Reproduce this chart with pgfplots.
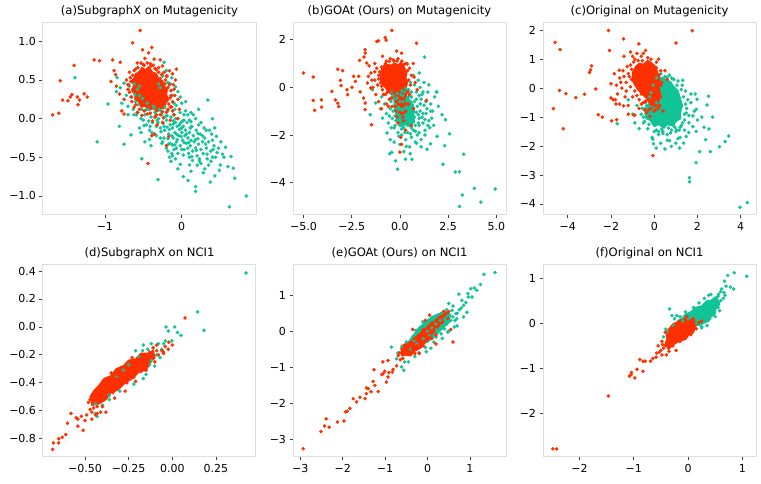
\documentclass[border=0pt]{standalone}
\usepackage{pgfplots}
\pgfplotsset{compat=1.18}
\usepackage{fontspec}
\setmainfont{DejaVu Sans}
\definecolor{gc}{RGB}{16,196,152}
\definecolor{rc}{RGB}{255,48,0}
\pgfplotsset{
 panel/.style={scale only axis, width=213pt, height=192pt, anchor=south west,
  axis line style={draw=black!13, line width=1pt},
  tick align=outside, tick pos=left, major tick length=3.5pt,
  tick style={black!75, line width=0.7pt},
  tick label style={font=\fontsize{11}{12}\selectfont, text=black},
  title style={font=\fontsize{11.6}{13}\selectfont, at={(0.5,1)}, anchor=base, yshift=2.5pt}},
 gs/.style={only marks, mark=*, mark size=1.6pt, color=gc, mark options={draw=none, fill=gc}},
 rs/.style={only marks, mark=*, mark size=1.6pt, color=rc, mark options={draw=none, fill=rc}},
 bl/.style={fill=#1, draw=#1, line width=1.5pt, line join=round, mark=none}
}
\begin{document}
\begin{tikzpicture}
\path[use as bounding box] (0,0) rectangle (761pt,484pt);
% (a)
\begin{axis}[panel, at={(43pt,269pt)}, xmin=-1.805, xmax=0.966, ymin=-1.246, ymax=1.237,
 title={(a)SubgraphX on Mutagenicity}, xtick={-1,0}, xticklabels={−1,0},
 ytick={-1,-0.5,0,0.5,1}, yticklabels={−1.0,−0.5,0.0,0.5,1.0}]
\addplot[gs] coordinates {(-0.62,0.45)(-0.58,0.38)(-0.55,0.30)(-0.60,0.22)(-0.52,0.12)(-0.48,0.05)(-0.50,-0.02)(-0.45,0.20)(-0.40,0.02)(-0.38,-0.05)(-0.35,0.08)(-0.33,-0.10)(-0.30,0.00)(-0.28,-0.12)(-0.26,0.05)(-0.24,-0.06)(-0.22,-0.15)(-0.20,-0.02)(-0.18,0.10)(-0.17,-0.20)(-0.15,-0.08)(-0.14,0.02)(-0.12,-0.12)(-0.11,-0.25)(-0.10,0.05)(-0.09,-0.18)(-0.08,-0.05)(-0.07,-0.30)(-0.06,-0.10)(-0.05,0.00)(-0.04,-0.22)(-0.03,-0.14)(-0.02,-0.35)(-0.01,-0.05)(0.00,-0.18)(0.01,-0.28)(0.02,-0.10)(0.03,-0.40)(0.04,-0.22)(0.05,-0.15)(0.06,-0.32)(0.07,-0.05)(0.08,-0.25)(0.09,-0.45)(0.10,-0.18)(0.11,-0.35)(0.12,-0.28)(0.13,-0.10)(0.14,-0.42)(0.15,-0.22)(0.16,-0.30)(0.18,-0.38)(0.19,-0.15)(0.20,-0.48)(0.21,-0.26)(0.22,-0.33)(0.24,-0.20)(0.25,-0.40)(0.27,-0.30)(0.28,-0.45)(0.30,-0.25)(0.32,-0.38)(0.35,-0.30)(0.38,-0.42)(0.40,-0.28)(0.42,-0.35)(0.44,-0.50)(-0.25,-0.30)(-0.20,-0.38)(-0.15,-0.32)(-0.13,-0.45)(-0.10,-0.40)(-0.16,-0.50)(-0.14,-0.55)(-0.12,-0.48)(-0.08,-0.52)(-0.05,-0.45)(-0.28,-0.25)(-0.35,-0.20)(-0.42,-0.15)(-0.48,-0.30)(-0.55,-0.12)(-0.70,0.05)(-0.72,0.30)(-0.78,0.20)(-0.85,0.35)(-0.68,0.42)(-0.30,0.45)(-0.25,0.55)(-0.20,0.62)(-0.23,0.73)(-0.15,0.45)(-0.12,0.30)(-0.10,0.20)(-0.05,0.35)(0.00,0.20)(0.05,0.10)(0.08,0.05)(0.10,-0.02)(0.15,0.05)(0.18,0.00)(0.22,0.12)(0.25,-0.05)(0.34,0.24)(0.40,0.00)(0.36,-0.15)(0.45,-0.23)(0.48,-0.38)(0.50,-0.60)(0.43,-0.74)(0.37,-0.82)(0.30,-0.65)(0.25,-0.58)(0.20,-0.60)(0.14,-0.54)(0.08,-0.80)(0.18,-0.88)(0.18,-0.94)(-0.02,-0.59)(-0.31,-0.79)(-0.52,-0.52)(-0.66,-0.21)(-0.75,-0.33)(-0.81,-0.10)(-0.96,0.19)(-0.84,0.53)(-1.10,-0.30)(-1.39,0.53)(0.64,-0.49)(0.67,-0.64)(0.69,-0.77)(0.62,-1.14)(0.84,-1.00)(0.55,-0.50)(0.60,-0.62)(0.33,-0.52)(0.28,-0.70)(0.12,-0.68)(-0.40,-0.35)(-0.05,-0.65)(0.02,-0.75)(-0.44,0.12)(-0.36,0.14)(-0.27,0.10)(-0.19,0.04)(-0.11,-0.03)(-0.03,-0.08)(0.03,-0.02)(-0.46,-0.08)(-0.32,-0.02)(-0.23,-0.10)(-0.16,-0.14)(-0.07,-0.20)(0.00,-0.12)(0.06,-0.20)(-0.53,0.00)(-0.41,-0.10)(-0.18,-0.26)(-0.09,-0.34)(0.10,-0.50)(0.23,-0.52)(0.35,-0.60)(0.40,-0.50)(-0.57,0.08)(-0.63,0.12)(-0.61,0.31)(-0.59,0.05)(-0.57,0.18)(-0.51,0.26)(-0.49,-0.09)(-0.47,0.11)(-0.53,-0.18)(-0.41,0.07)(-0.39,-0.18)(-0.43,-0.03)(-0.37,0.16)(-0.42,-0.27)(-0.31,-0.05)(-0.29,0.12)(-0.33,-0.22)(-0.27,-0.17)(-0.34,0.03)(-0.26,-0.32)(-0.21,0.03)(-0.19,-0.11)(-0.23,-0.25)(-0.17,-0.33)(-0.22,0.15)(-0.18,-0.42)(-0.11,-0.07)(-0.09,0.12)(-0.13,-0.22)(-0.07,-0.38)(-0.12,-0.34)(-0.08,0.00)(-0.06,-0.27)(0.01,-0.03)(-0.01,-0.23)(0.02,-0.47)(-0.02,0.08)(0.03,-0.31)(0.00,-0.40)(0.11,-0.12)(0.09,-0.31)(0.12,-0.04)(0.08,-0.38)(0.13,-0.49)(0.10,-0.60)(0.21,-0.19)(0.19,-0.41)(0.22,-0.08)(0.18,-0.27)(0.23,-0.55)(0.31,-0.33)(0.29,-0.12)(0.33,-0.46)(0.27,-0.22)(0.32,-0.15)(0.41,-0.40)(0.39,-0.20)(0.43,-0.12)(0.38,-0.55)(0.46,-0.44)(0.51,-0.30)(0.53,-0.46)(0.57,-0.37)(0.49,-0.67)(-0.28,0.40)(-0.18,0.47)(-0.13,0.53)(-0.08,0.41)(-0.02,0.28)(0.05,0.22)(-0.07,0.17)(0.12,0.08)(0.03,0.05)(-0.55,0.42)(-0.65,0.28)(-0.70,0.16)(-0.75,0.46)(-0.80,0.40)(-0.62,0.05)};
\addplot[bl=rc] coordinates {(-0.62,0.52)(-0.60,0.58)(-0.55,0.60)(-0.52,0.66)(-0.47,0.63)(-0.43,0.67)(-0.38,0.60)(-0.33,0.58)(-0.30,0.51)(-0.25,0.49)(-0.23,0.42)(-0.19,0.38)(-0.20,0.31)(-0.17,0.25)(-0.21,0.20)(-0.22,0.14)(-0.28,0.13)(-0.32,0.09)(-0.37,0.13)(-0.43,0.11)(-0.47,0.16)(-0.53,0.15)(-0.56,0.22)(-0.61,0.25)(-0.60,0.32)(-0.65,0.37)(-0.62,0.44)(-0.66,0.48)} -- cycle;
\addplot[rs] coordinates {(-0.66,0.48)(-0.63,0.35)(-0.65,0.22)(-0.62,0.15)(-0.58,0.08)(-0.55,0.60)(-0.50,0.70)(-0.45,0.72)(-0.40,0.68)(-0.35,0.65)(-0.30,0.60)(-0.28,0.52)(-0.22,0.45)(-0.18,0.40)(-0.14,0.30)(-0.12,0.22)(-0.15,0.15)(-0.20,0.08)(-0.28,0.05)(-0.35,0.02)(-0.45,0.06)(-0.52,0.04)(-0.70,0.38)(-0.72,0.50)(-0.75,0.25)(-0.78,0.10)(-0.10,0.38)(-0.08,0.50)(-0.12,0.58)(-0.20,0.55)(-0.25,0.68)(-0.60,0.64)(-0.05,0.25)(-0.03,0.12)(-0.10,0.05)(-0.15,-0.02)(-0.25,-0.05)(-0.32,-0.08)(-0.38,-0.03)(-0.05,0.00)(-1.68,0.05)(-1.60,0.07)(-1.58,0.49)(-1.55,0.24)(-1.48,0.23)(-1.45,0.28)(-1.43,0.31)(-1.40,0.69)(-1.36,0.28)(-1.35,0.18)(-1.33,0.24)(-1.27,0.32)(-1.23,0.28)(-1.14,0.76)(-1.07,0.75)(-0.90,0.76)(-0.88,0.62)(-0.86,0.57)(-0.80,0.73)(-0.81,0.32)(-0.70,0.44)(-0.64,0.98)(-0.54,1.14)(-0.51,0.89)(-0.43,0.85)(-0.39,0.92)(-0.36,0.77)(-0.07,0.64)(-0.44,-0.58)(-0.39,-0.22)(-0.36,-0.20)(-0.20,-0.35)(-0.17,-0.23)(-0.75,0.06)(-0.85,0.42)(-0.92,0.48)(-0.68,0.60)(-0.16,0.62)(-0.28,0.76)(-0.48,0.78)(-0.58,0.72)(-0.12,0.10)(-0.64,0.56)(-0.57,0.66)(-0.49,0.69)(-0.41,0.71)(-0.33,0.63)(-0.26,0.57)(-0.21,0.50)(-0.16,0.44)(-0.14,0.36)(-0.15,0.27)(-0.17,0.19)(-0.18,0.12)(-0.25,0.09)(-0.33,0.05)(-0.41,0.07)(-0.49,0.10)(-0.55,0.12)(-0.60,0.18)(-0.66,0.28)(-0.68,0.34)(-0.69,0.44)(-0.67,0.53)(-0.62,0.62)(-0.53,0.72)(-0.37,0.69)(-0.30,0.66)(-0.23,0.60)(-0.19,0.55)(-0.11,0.44)(-0.09,0.30)(-0.13,0.15)(-0.24,0.01)};
\end{axis}
% (b)
\begin{axis}[panel, at={(293pt,269pt)}, xmin=-5.54, xmax=5.5, ymin=-5.36, ymax=2.70,
 title={(b)GOAt (Ours) on Mutagenicity}, xtick={-5,-2.5,0,2.5,5}, xticklabels={−5.0,−2.5,0.0,2.5,5.0},
 ytick={-4,-2,0,2}, yticklabels={−4,−2,0,2}]
\addplot[bl=gc] coordinates {(-0.2,-0.5)(0.1,-0.4)(0.4,-0.45)(0.6,-0.6)(0.75,-0.9)(0.7,-1.2)(0.75,-1.45)(0.5,-1.6)(0.3,-1.55)(0.05,-1.65)(-0.15,-1.4)(-0.2,-1.1)(-0.3,-0.8)} -- cycle;
\addplot[gs] coordinates {(-0.3,-0.5)(-0.2,-0.8)(-0.1,-1.1)(0.0,-0.6)(0.1,-1.3)(0.2,-0.9)(0.3,-1.5)(0.4,-0.7)(0.5,-1.2)(0.6,-0.4)(0.7,-1.0)(0.8,-1.6)(0.9,-0.8)(1.0,-1.3)(1.1,-0.5)(1.2,-1.1)(1.3,-1.8)(1.4,-0.9)(1.5,-1.4)(-0.4,-1.3)(-0.3,-1.7)(-0.2,-1.4)(-0.1,-1.9)(0.0,-1.6)(0.1,-2.0)(0.2,-1.7)(0.3,-2.2)(0.4,-1.9)(0.5,-1.6)(0.6,-2.1)(0.7,-1.8)(0.8,-2.3)(0.9,-2.0)(1.0,-1.9)(1.1,-2.2)(-0.5,-0.9)(-0.4,-0.2)(0.05,-0.3)(0.25,-0.2)(0.45,-0.1)(0.55,0.2)(0.75,0.1)(0.85,-0.2)(0.95,0.3)(1.05,0.0)(1.15,-0.3)(1.25,0.2)(1.35,-0.6)(1.45,-0.2)(1.6,-0.7)(1.7,-1.0)(1.8,-0.4)(1.9,-0.2)(1.65,-1.3)(1.55,-1.7)(1.75,-1.6)(-0.15,-1.0)(0.15,-1.1)(0.35,-1.2)(0.65,-1.3)(0.35,-0.5)(0.55,-0.8)(0.75,-0.6)(0.15,-0.6)(-0.05,-1.3)(0.25,-1.4)(0.45,-1.45)(0.6,-1.7)(0.85,-1.05)(1.05,-0.7)(0.95,-1.5)(1.2,-1.5)(-0.35,-1.0)(-0.25,-1.2)(-0.6,-1.5)(-0.7,-1.1)(-0.8,-0.7)(-0.95,-0.4)(-1.0,-0.9)(-0.9,-1.3)(-0.67,-1.92)(-0.50,-2.2)(-0.53,-2.79)(-0.42,-2.73)(-0.22,-3.09)(-0.12,-3.44)(0.33,-2.48)(0.54,-2.79)(0.63,-3.02)(0.29,-3.02)(0.86,-2.35)(-1.54,-1.15)(-1.25,-0.66)(-1.42,-0.1)(1.28,1.27)(1.92,-0.19)(2.18,-1.15)(2.36,-1.36)(2.57,-1.95)(2.32,-2.45)(2.23,-3.23)(2.87,-3.56)(3.09,-3.54)(3.31,-2.81)(3.23,-4.52)(3.09,-5.0)(3.86,-4.24)(4.2,-4.82)(4.94,-4.27)(1.59,-2.37)(1.93,-2.06)(1.4,-2.6)(1.1,-2.5)(0.0,-2.4)(-0.3,-2.3)(0.2,-2.7)(0.5,-2.5)(1.0,0.6)(0.7,0.5)(1.5,0.1)(2.0,-0.8)(1.3,-2.0)(-0.45,-0.6)(-0.35,-0.35)(-0.25,-0.7)(-0.15,-0.45)(-0.05,-0.85)(0.05,-0.95)(0.15,-0.35)(0.25,-1.15)(0.35,-0.85)(0.45,-0.4)(0.55,-1.05)(0.65,-0.75)(0.75,-1.25)(0.85,-0.5)(0.95,-1.15)(1.05,-1.0)(1.15,-1.25)(1.25,-0.75)(1.35,-1.1)(1.0,-1.6)(0.8,-1.85)(0.55,-1.95)(0.25,-1.9)(-0.05,-2.05)(-0.25,-1.6)(-0.45,-1.7)(-0.55,-1.2)(0.1,-1.75)(0.4,-1.6)(0.7,-1.45)(1.3,-1.35)(1.45,-1.6)(1.6,-1.0)(1.2,-0.2)(1.0,-0.35)(0.6,-0.2)(0.3,-0.05)(0.1,-0.15)(-0.15,-0.25)};
\addplot[bl=rc] coordinates {(-1.0,0.55)(-0.95,0.75)(-0.8,0.85)(-0.65,0.95)(-0.45,0.92)(-0.3,1.0)(-0.1,0.95)(0.1,0.98)(0.25,0.8)(0.35,0.6)(0.3,0.4)(0.38,0.2)(0.32,-0.05)(0.35,-0.3)(0.25,-0.55)(0.2,-0.85)(0.0,-0.9)(-0.15,-0.75)(-0.3,-0.55)(-0.4,-0.3)(-0.6,-0.2)(-0.75,0.0)(-0.9,0.1)(-1.0,0.3)} -- cycle;
\addplot[rs] coordinates {(-5.0,0.60)(-4.49,0.43)(-4.49,-0.55)(-4.42,-0.97)(-4.07,-0.53)(-4.06,-0.83)(-3.53,-0.17)(-3.34,-0.53)(-3.22,0.76)(-3.22,-0.67)(-3.17,-0.81)(-2.97,0.70)(-3.08,0.29)(-3.05,0.07)(-2.74,-0.10)(-2.71,-0.31)(-2.48,0.00)(-2.40,0.46)(-2.31,0.25)(-2.09,1.13)(-2.06,-0.19)(-1.86,1.27)(-1.80,1.58)(-1.80,1.44)(-1.72,1.02)(-1.63,0.46)(-1.68,0.18)(-1.51,-0.03)(-1.47,-1.57)(-1.80,-0.94)(-1.80,-0.66)(-1.88,-0.45)(-2.14,0.46)(-1.2,1.92)(-1.11,1.95)(-0.76,2.09)(-0.71,1.98)(-0.42,2.39)(-0.17,1.52)(0.09,1.43)(0.38,0.98)(0.69,1.00)(0.86,1.85)(-0.71,0.89)(0.05,-2.1)(0.09,-2.4)(0.0,-2.72)(1.37,-0.55)(0.74,0.43)(-1.2,0.8)(-1.1,0.5)(-1.0,0.2)(-0.9,-0.1)(-0.8,0.9)(-0.7,1.1)(-0.6,0.6)(-0.5,1.2)(-0.3,1.1)(-0.1,1.2)(0.1,1.1)(0.3,1.0)(0.5,0.8)(0.6,0.5)(0.55,0.1)(0.5,-0.3)(0.45,-0.7)(0.3,-1.0)(0.1,-1.1)(-0.2,-1.0)(-0.4,-0.8)(-0.55,-0.5)(-0.75,-0.3)(-1.3,0.3)(-1.4,0.0)(-1.5,0.6)(-1.25,-0.3)(-1.1,-0.6)(-0.95,-0.9)(-0.7,-0.7)(-1.6,0.9)(-1.3,1.0)(-0.9,1.3)(0.2,-1.4)(0.6,-1.6)(0.3,-1.8)(-0.1,-1.5)(0.7,-0.9)(0.8,0.2)(0.9,-0.1)(-0.3,-0.2)(-1.05,0.65)(-0.95,0.85)(-0.75,1.0)(-0.55,1.08)(-0.35,1.15)(-0.15,1.1)(0.05,1.0)(0.2,0.95)(0.4,0.7)(0.45,0.3)(0.42,-0.2)(0.35,-0.7)(0.22,-1.05)(0.0,-1.05)(-0.25,-0.8)(-0.45,-0.45)(-0.65,-0.2)(-0.95,0.05)(-1.1,0.35)(-1.15,0.1)(-0.85,-0.3)(-0.6,-0.8)(-0.15,-1.25)(0.15,-1.25)(-0.5,0.5)(-1.3,0.65)(-1.45,0.3)};
\end{axis}
% (c)
\begin{axis}[panel, at={(543pt,269pt)}, xmin=-5.15, xmax=4.71, ymin=-4.38, ymax=2.25,
 title={(c)Original on Mutagenicity}, xtick={-4,-2,0,2,4}, xticklabels={−4,−2,0,2,4},
 ytick={-4,-3,-2,-1,0,1,2}, yticklabels={−4,−3,−2,−1,0,1,2}]
\addplot[bl=gc] coordinates {(0.0,0.25)(0.2,0.3)(0.35,0.38)(0.55,0.28)(0.75,0.22)(0.9,0.05)(1.1,-0.1)(1.2,-0.35)(1.3,-0.6)(1.2,-0.85)(1.22,-1.05)(1.0,-1.15)(0.85,-1.3)(0.6,-1.25)(0.45,-1.38)(0.2,-1.25)(0.0,-1.32)(-0.2,-1.1)(-0.38,-1.05)(-0.42,-0.85)(-0.3,-0.65)(-0.18,-0.45)(-0.1,-0.2)} -- cycle;
\addplot[gs] coordinates {(-0.6,-0.9)(-0.5,-1.2)(-0.4,-0.7)(-0.3,-1.4)(-0.2,-1.0)(0.0,-1.5)(0.1,-0.5)(0.2,-1.6)(0.4,-1.5)(0.6,-1.6)(0.8,-1.45)(1.0,-1.5)(1.2,-1.35)(1.4,-1.1)(1.5,-0.7)(1.55,-0.4)(1.45,-0.1)(1.3,0.1)(1.1,0.25)(0.9,0.3)(0.7,0.45)(0.5,0.4)(0.3,0.5)(0.1,0.35)(-0.2,-0.3)(-0.4,-0.5)(-0.8,-0.6)(-1.0,-0.9)(-0.9,-1.2)(-0.7,-1.4)(-1.2,-0.4)(1.32,0.27)(0.89,0.31)(1.79,-1.33)(1.48,-0.86)(1.25,-1.30)(1.02,-1.44)(0.87,-1.27)(0.40,-1.56)(1.7,-0.5)(1.85,-0.8)(2.0,-1.1)(1.6,-1.2)(1.9,-0.2)(1.2,-1.7)(0.6,-1.8)(0.3,-1.9)(-0.1,-1.7)(1.0,-1.9)(-1.71,-1.23)(-0.06,-1.76)(-0.03,-1.92)(0.09,-2.07)(0.71,-1.81)(0.79,-2.01)(1.17,-2.07)(1.36,-1.90)(1.48,-1.67)(1.60,-1.53)(1.94,-1.49)(2.10,-2.19)(1.94,-2.57)(1.63,-3.09)(1.63,-3.23)(2.60,-2.19)(3.02,-2.02)(3.28,-1.85)(3.45,-1.65)(2.53,-1.41)(2.51,-0.28)(2.44,-0.58)(1.98,-0.38)(1.94,-0.73)(1.79,-0.96)(2.38,-1.78)(3.97,-4.11)(4.31,-3.95)(2.2,-1.0)(2.3,-1.35)(1.4,-1.45)(1.1,-1.75)(0.5,-2.1)(2.7,-1.0)(-0.45,-1.15)(-0.25,-1.25)(0.1,-1.45)(0.35,-1.42)(0.65,-1.38)(0.95,-1.35)(1.3,-1.2)(1.4,-0.9)(1.45,-0.55)(1.35,-0.3)(1.25,-0.05)(1.05,0.1)(0.8,0.35)(0.6,0.38)(0.4,0.2)(0.2,0.45)(-0.05,0.1)(-0.15,-0.15)(-0.35,-0.6)(-0.55,-0.7)(-0.5,-1.0)(1.6,-0.95)(1.7,-0.2)(1.15,-1.45)(0.75,-1.55)(0.2,-1.5)};
\addplot[bl=rc] coordinates {(-1.0,0.55)(-0.85,0.75)(-0.7,0.85)(-0.5,0.82)(-0.3,0.95)(-0.1,0.85)(0.05,0.75)(0.15,0.55)(0.25,0.3)(0.2,0.05)(0.28,-0.2)(0.2,-0.45)(0.1,-0.65)(-0.05,-0.6)(-0.2,-0.55)(-0.35,-0.35)(-0.5,-0.25)(-0.7,-0.1)(-0.85,0.05)(-1.0,0.25)} -- cycle;
\addplot[rs] coordinates {(-4.59,1.58)(-4.36,1.33)(-4.67,-0.71)(-4.39,-0.08)(-4.21,-1.40)(-4.09,-0.19)(-3.63,-0.33)(-3.23,-0.21)(-3.0,0.54)(-2.95,0.63)(-2.9,0.77)(-2.71,-0.03)(-2.59,-0.92)(-2.4,-1.0)(-2.12,1.99)(-2.07,1.30)(-2.0,0.15)(-1.97,-1.13)(-1.74,-1.09)(-2.0,-0.34)(-1.8,-0.4)(-1.77,-0.55)(-1.42,1.70)(-1.42,-0.61)(-1.62,0.62)(-0.71,1.53)(-0.9,-0.93)(-0.06,-2.33)(0.4,-0.79)(1.01,1.56)(1.76,1.98)(-0.2,-0.98)(-0.36,-0.84)(-1.1,0.8)(-1.2,0.5)(-1.3,0.2)(-1.0,-0.3)(-0.9,1.0)(-0.6,1.1)(-0.3,1.05)(0.1,0.9)(0.3,0.6)(0.35,0.2)(0.3,-0.3)(0.2,-0.7)(0.0,-0.8)(-0.25,-0.75)(-0.5,-0.5)(-0.8,-0.25)(-1.45,0.6)(-1.5,0.0)(-1.6,0.35)(-1.35,-0.3)(-1.2,-0.6)(-1.05,0.3)(-1.75,0.1)(-1.85,0.5)(-1.9,-0.4)(-1.6,-0.55)(-1.4,1.1)(-1.1,1.25)(-0.8,1.2)(-0.4,1.3)(0.2,1.0)(0.5,0.6)(0.6,0.3)(-0.7,-0.7)(-1.2,-0.9)(-0.95,-0.93)(-0.7,-0.4)(-1.05,0.65)(-0.95,0.9)(-0.75,0.95)(-0.55,0.95)(-0.15,1.0)(0.1,0.7)(0.22,0.45)(0.3,0.1)(0.25,-0.6)(0.05,-0.75)(-0.15,-0.7)(-0.4,-0.45)(-0.6,-0.2)(-0.9,-0.1)(-1.1,0.05)(-1.15,0.4)(-1.25,0.75)(-1.0,1.1)(-0.5,1.2)(-1.4,0.4)(-1.3,-0.1)(-1.55,0.2)(-1.7,-0.2)(-0.45,-0.75)(-0.6,-0.55)};
\end{axis}
% (d)
\begin{axis}[panel, at={(43pt,27pt)}, xmin=-0.74, xmax=0.479, ymin=-0.931, ymax=0.443,
 title={(d)SubgraphX on NCI1}, xtick={-0.5,-0.25,0,0.25}, xticklabels={−0.50,−0.25,0.00,0.25},
 ytick={-0.8,-0.6,-0.4,-0.2,0,0.2,0.4}, yticklabels={−0.8,−0.6,−0.4,−0.2,0.0,0.2,0.4}]
\addplot[gs] coordinates {(0.422,0.386)(0.145,0.107)(0.181,-0.024)(0.014,0.0)(-0.023,-0.03)(0.03,-0.04)(0.05,-0.06)(-0.036,0.0)(-0.002,-0.10)(-0.04,-0.10)(-0.08,-0.12)(-0.12,-0.12)(-0.166,-0.13)(-0.21,-0.17)(-0.19,-0.21)(-0.12,-0.24)(-0.13,-0.27)(-0.15,-0.34)(-0.166,-0.37)(-0.22,-0.41)(-0.30,-0.46)(-0.36,-0.49)(-0.44,-0.55)(-0.44,-0.62)(-0.43,-0.64)(-0.40,-0.56)(-0.36,-0.52)(-0.28,-0.31)(-0.32,-0.36)(-0.11,-0.15)(-0.09,-0.20)(-0.06,-0.16)(-0.05,-0.12)(-0.07,-0.22)(-0.10,-0.28)(-0.14,-0.16)(-0.25,-0.27)(-0.17,-0.17)};
\addplot[bl=rc] coordinates {(-0.45,-0.46)(-0.42,-0.42)(-0.39,-0.37)(-0.35,-0.35)(-0.32,-0.30)(-0.28,-0.28)(-0.25,-0.24)(-0.21,-0.23)(-0.18,-0.19)(-0.14,-0.19)(-0.11,-0.17)(-0.10,-0.22)(-0.13,-0.26)(-0.15,-0.31)(-0.19,-0.32)(-0.23,-0.37)(-0.27,-0.40)(-0.31,-0.45)(-0.35,-0.47)(-0.38,-0.52)(-0.42,-0.55)(-0.46,-0.56)(-0.47,-0.50)} -- cycle;
\addplot[rs] coordinates {(-0.47,-0.52)(-0.44,-0.50)(-0.42,-0.47)(-0.40,-0.52)(-0.38,-0.44)(-0.36,-0.40)(-0.34,-0.47)(-0.32,-0.37)(-0.30,-0.43)(-0.28,-0.34)(-0.26,-0.40)(-0.24,-0.30)(-0.22,-0.36)(-0.20,-0.27)(-0.18,-0.32)(-0.16,-0.24)(-0.14,-0.28)(-0.12,-0.21)(-0.10,-0.25)(-0.13,-0.18)(-0.45,-0.58)(-0.43,-0.62)(-0.46,-0.66)(-0.49,-0.63)(-0.40,-0.57)(-0.33,-0.51)(-0.27,-0.46)(-0.21,-0.39)(-0.15,-0.31)(-0.35,-0.33)(-0.29,-0.29)(-0.23,-0.22)(-0.18,-0.20)(-0.11,-0.15)(-0.08,-0.20)(-0.06,-0.17)(-0.04,-0.14)(-0.09,-0.13)(-0.05,-0.19)(-0.685,-0.876)(-0.68,-0.83)(-0.65,-0.80)(-0.65,-0.83)(-0.63,-0.79)(-0.61,-0.77)(-0.60,-0.69)(-0.58,-0.62)(-0.55,-0.65)(-0.54,-0.66)(-0.54,-0.71)(-0.51,-0.74)(-0.50,-0.67)(-0.52,-0.64)(-0.48,-0.54)(-0.47,-0.59)(-0.46,-0.61)(-0.44,-0.63)(-0.43,-0.57)(-0.41,-0.61)(-0.38,-0.61)(0.073,0.064)(-0.051,-0.18)(-0.023,-0.16)(-0.09,-0.17)(-0.02,-0.11)(0.0,-0.13)};
\end{axis}
% (e)
\begin{axis}[panel, at={(293pt,27pt)}, xmin=-3.17, xmax=1.85, ymin=-3.49, ymax=1.84,
 title={(e)GOAt (Ours) on NCI1}, xtick={-3,-2,-1,0,1}, xticklabels={−3,−2,−1,0,1},
 ytick={-3,-2,-1,0,1}, yticklabels={−3,−2,−1,0,1}]
\addplot[bl=gc] coordinates {(-0.2,0.1)(0.1,0.4)(0.4,0.55)(0.55,0.45)(0.45,0.2)(0.2,-0.1)(0.0,-0.3)(-0.3,-0.4)(-0.45,-0.3)} -- cycle;
\addplot[gs] coordinates {(1.33,1.58)(1.59,1.63)(1.02,1.18)(1.16,1.14)(0.74,1.03)(0.96,0.95)(0.85,0.72)(0.93,0.53)(0.67,0.49)(0.69,0.35)(0.81,0.86)(0.50,0.77)(0.58,0.58)(0.43,0.40)(0.5,0.26)(-0.85,-0.44)(-0.73,-0.76)(-0.61,-0.99)(-0.56,-1.08)(-0.54,-0.85)(-0.31,-0.25)(-0.27,0.03)(-0.19,-0.62)(-0.03,-0.57)(0.08,-0.47)(-0.11,0.26)(0.05,0.31)(0.17,0.40)(0.32,0.49)(0.50,0.49)(0.2,-0.16)(0.32,-0.07)(0.4,0.07)(0.63,0.12)(0.48,-0.02)(0.0,0.0)(0.1,0.1)(0.2,0.2)(0.3,0.3)(0.35,0.1)(0.45,0.2)(0.55,0.3)(0.6,0.4)(0.7,0.5)(0.75,0.6)(0.65,0.3)(0.4,0.35)(0.25,0.45)(0.15,0.3)(-0.05,0.15)(-0.2,0.0)(-0.35,-0.15)(-0.5,-0.3)(-0.6,-0.45)(-0.7,-0.6)(-0.4,-0.5)(-0.25,-0.35)(-0.1,-0.2)(0.05,-0.1)(0.2,0.05)(0.5,0.0)(0.35,-0.2)(0.15,-0.3)(-0.05,-0.45)(-0.3,-0.7)(-0.45,-0.85)(0.8,0.65)(0.9,0.8)(1.05,0.95)(0.95,1.05)(1.1,1.2)(0.6,0.7)(0.45,0.6)(0.85,0.4)(1.25,1.3)(0.7,0.15)};
\addplot[bl=rc] coordinates {(-0.62,-0.42)(-0.5,-0.33)(-0.4,-0.3)(-0.3,-0.18)(-0.2,-0.1)(-0.1,0.05)(0.0,0.12)(0.1,0.25)(0.2,0.3)(0.3,0.45)(0.4,0.48)(0.38,0.32)(0.3,0.2)(0.22,0.05)(0.12,-0.05)(0.05,-0.2)(-0.05,-0.3)(-0.15,-0.45)(-0.3,-0.55)(-0.4,-0.68)(-0.52,-0.65)(-0.6,-0.68)} -- cycle;
\addplot[rs] coordinates {(-2.93,-3.26)(-2.51,-2.78)(-2.43,-2.63)(-2.32,-2.66)(-2.39,-2.43)(-2.12,-2.52)(-1.97,-2.49)(-1.93,-2.24)(-1.89,-2.22)(-1.83,-2.14)(-1.67,-1.96)(-1.75,-1.87)(-1.59,-1.83)(-1.47,-1.87)(-1.44,-1.73)(-1.40,-1.59)(-1.44,-1.57)(-1.33,-1.68)(-1.24,-1.50)(-1.28,-1.39)(-1.16,-1.67)(-1.26,-1.07)(-1.08,-1.20)(-1.05,-1.18)(-1.01,-1.11)(-0.97,-1.41)(-0.93,-1.27)(-0.91,-1.15)(-0.83,-1.13)(-1.05,-0.85)(-0.93,-0.81)(-0.81,-1.06)(-0.73,-0.96)(-0.64,-0.79)(-0.69,-0.67)(-0.55,-0.55)(-0.5,-0.4)(-0.45,-0.62)(-0.4,-0.35)(-0.35,-0.5)(-0.3,-0.2)(-0.25,-0.4)(-0.2,-0.1)(-0.15,-0.3)(-0.1,0.05)(-0.05,-0.15)(0.0,0.1)(0.05,-0.05)(0.1,0.2)(0.15,0.05)(0.2,0.3)(0.25,0.15)(0.3,0.4)(0.35,0.25)(0.4,0.45)(0.45,0.5)(-0.6,-0.5)(-0.65,-0.6)(-0.58,-0.75)(-0.3,-0.62)(-0.1,-0.4)(0.1,-0.2)(0.2,-0.1)(0.38,0.55)(0.5,0.55)(0.48,0.35)(0.55,0.05)(0.6,-0.3)(0.2,-0.35)(-0.2,-0.6)(-0.05,0.3)(-0.35,0.05)(0.05,0.45)};
\end{axis}
% (f)
\begin{axis}[panel, at={(543pt,27pt)}, xmin=-2.67, xmax=1.25, ymin=-2.96, ymax=1.29,
 title={(f)Original on NCI1}, xtick={-2,-1,0,1}, xticklabels={−2,−1,0,1},
 ytick={-2,-1,0,1}, yticklabels={−2,−1,0,1}]
\addplot[bl=gc] coordinates {(-0.2,0.05)(-0.1,0.12)(-0.05,0.2)(0.05,0.25)(0.15,0.35)(0.25,0.38)(0.35,0.5)(0.42,0.5)(0.5,0.58)(0.56,0.5)(0.58,0.42)(0.5,0.3)(0.5,0.22)(0.4,0.12)(0.38,0.05)(0.28,0.0)(0.2,-0.05)(0.1,-0.02)(0.0,-0.05)(-0.1,-0.02)} -- cycle;
\addplot[gs] coordinates {(-0.34,0.32)(1.08,1.04)(0.85,1.12)(0.73,1.06)(0.67,0.93)(0.70,0.82)(0.78,0.80)(0.84,0.76)(0.62,0.76)(0.66,0.68)(0.56,0.64)(0.47,0.51)(0.42,0.64)(0.52,0.56)(0.25,-0.08)(-0.39,-0.19)(-0.41,-0.13)(-0.27,-0.05)(-0.45,-0.30)(-0.30,0.17)(-0.21,0.17)(0.30,0.06)(0.0,0.1)(0.1,0.2)(0.2,0.3)(0.3,0.35)(0.4,0.45)(0.5,0.5)(0.55,0.6)(0.45,0.3)(0.35,0.2)(0.25,0.1)(0.15,0.0)(0.4,0.1)(0.55,0.35)(0.6,0.5)(0.3,0.55)(0.2,0.45)(0.1,0.35)(-0.05,0.25)(-0.15,0.15)(-0.25,0.1)(0.65,0.55)(0.5,0.15)(0.35,-0.05)(0.25,-0.1)(0.48,0.4)(0.58,0.28)(0.22,0.2)(0.12,0.12)(-0.1,0.05)(0.38,0.62)(0.6,0.7)(0.68,0.62)};
\addplot[bl=rc] coordinates {(-0.36,-0.14)(-0.3,-0.05)(-0.27,-0.01)(-0.2,0.02)(-0.12,0.08)(-0.03,0.06)(0.07,0.08)(0.17,0.0)(0.12,-0.1)(0.10,-0.20)(0.02,-0.25)(-0.05,-0.36)(-0.15,-0.38)(-0.24,-0.45)(-0.3,-0.5)(-0.36,-0.58)(-0.42,-0.45)(-0.38,-0.35)(-0.40,-0.27)} -- cycle;
\addplot[rs] coordinates {(-2.49,-2.78)(-2.42,-2.78)(-1.47,-1.61)(-1.05,-1.14)(-1.08,-1.17)(-0.98,-1.21)(-1.04,-1.09)(-0.89,-0.80)(-0.83,-0.84)(-0.79,-0.84)(-0.94,-1.02)(-0.83,-1.06)(-0.69,-0.84)(-0.65,-0.78)(-0.59,-0.75)(-0.58,-0.66)(-0.53,-0.64)(-0.48,-0.70)(-0.47,-0.47)(-0.42,-0.49)(-0.38,-0.35)(-0.32,-0.2)(-0.25,-0.1)(-0.18,0.0)(-0.05,0.1)(0.1,0.1)(0.2,0.02)(0.15,-0.12)(0.05,-0.25)(-0.05,-0.3)(-0.15,-0.4)(-0.28,-0.5)(-0.35,-0.62)(-0.45,-0.55)(-0.48,-0.4)(-0.3,-0.32)(-0.2,-0.22)(-0.1,-0.12)(0.0,-0.05)(-0.42,-0.2)(0.25,0.05)(-0.02,0.15)(-0.22,-0.6)(-0.5,-0.6)(-0.4,-0.7)(-0.55,-0.5)(0.08,0.0)};
\end{axis}
\end{tikzpicture}
\end{document}
